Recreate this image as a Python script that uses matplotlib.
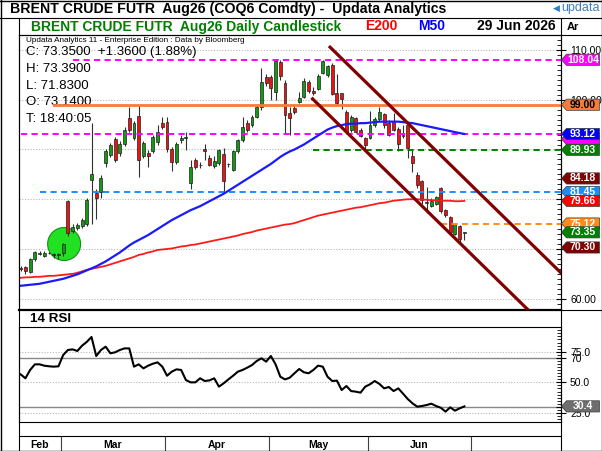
import numpy as np
import pandas as pd
import matplotlib
matplotlib.use("Agg")
import matplotlib.pyplot as plt
from matplotlib.patches import Polygon, Ellipse
from matplotlib.lines import Line2D
from matplotlib.ticker import MultipleLocator, FixedLocator, FixedFormatter
import matplotlib.transforms as mtransforms

plt.rcParams['font.family'] = ['Liberation Sans', 'DejaVu Sans']

W, H = 602, 451

# ---- data ----
dates = pd.bdate_range('2026-02-17', '2026-06-29')

opens = [66.1, 66.3, 65.3, 67.9, 69.0, 68.6, 69.2, 69.0, 68.7, 69.1,
         79.7, 73.7, 74.2, 74.6, 75.0, 83.9, 81.3, 81.5, 87.2, 88.9,
         92.2, 89.2, 91.2, 96.3, 92.4, 96.7, 88.7, 89.2, 89.6, 91.6,
         95.4, 95.5, 90.0, 87.5, 92.0, 92.4, 83.3, 87.9, 86.8, 90.0,
         88.2, 86.6, 87.2, 89.1, 87.0, 85.9, 89.6, 91.9, 95.4, 94.9,
         96.6, 98.5, 104.5, 104.6, 101.6, 107.5, 103.3, 97.4, 98.3, 99.6,
         100.5, 103.5, 101.8, 102.1, 105.4, 104.9, 107.0, 101.3, 101.3, 97.6,
         93.9, 96.3, 93.9, 92.4, 92.4, 94.9, 96.1, 97.1, 95.4, 95.8,
         94.2, 92.9, 94.9, 88.7, 84.9, 83.7, 79.5, 78.6, 79.0, 82.2,
         77.8, 76.5, 73.0, 74.7, 73.14]
highs = [66.5, 66.6, 68.2, 69.6, 69.5, 69.5, 69.4, 69.2, 69.2, 71.3,
         79.8, 75.0, 75.2, 76.3, 80.2, 95.3, 82.0, 84.8, 90.0, 91.4,
         92.6, 91.8, 94.5, 98.6, 95.8, 99.0, 91.8, 89.9, 93.0, 95.0,
         96.6, 96.5, 90.6, 91.5, 93.0, 93.5, 87.9, 88.3, 87.5, 91.2,
         88.9, 88.6, 90.2, 90.3, 87.3, 89.9, 92.2, 96.6, 96.0, 97.0,
         99.0, 106.3, 105.2, 105.0, 108.04, 108.0, 104.0, 98.5, 98.7, 101.6,
         104.3, 104.0, 102.6, 105.2, 108.0, 107.0, 107.4, 105.2, 101.4, 97.9,
         97.0, 96.6, 94.3, 92.6, 97.8, 96.6, 98.6, 97.3, 95.9, 97.4,
         94.6, 94.9, 95.3, 89.9, 85.4, 83.9, 82.5, 80.2, 80.6, 82.4,
         78.0, 76.6, 75.2, 74.8, 73.39]
lows = [65.6, 64.9, 65.1, 67.6, 68.7, 68.3, 68.9, 68.2, 67.9, 68.6,
        72.6, 73.2, 73.8, 74.3, 74.6, 75.0, 76.0, 80.2, 86.5, 88.4,
        87.5, 88.6, 90.8, 93.5, 92.0, 84.4, 88.2, 86.5, 89.2, 91.0,
        94.2, 89.5, 85.7, 87.0, 91.4, 89.9, 82.0, 86.0, 86.3, 87.9,
        86.7, 86.3, 86.8, 81.5, 86.5, 85.6, 89.2, 91.5, 93.5, 94.6,
        96.3, 98.0, 102.8, 99.9, 99.9, 104.0, 93.1, 93.0, 97.1, 99.3,
        100.3, 101.4, 101.0, 101.9, 105.2, 104.6, 101.0, 98.9, 98.1, 93.4,
        93.5, 93.3, 92.5, 89.9, 92.2, 94.6, 95.7, 94.3, 92.7, 93.8,
        89.6, 92.4, 88.2, 85.5, 82.2, 79.0, 77.2, 78.4, 78.8, 77.2,
        76.5, 73.1, 72.8, 71.5, 71.83]
closes = [66.0, 65.5, 67.9, 69.3, 69.2, 69.2, 69.15, 68.7, 69.0, 71.0,
          73.3, 74.5, 74.8, 75.9, 79.8, 85.1, 80.2, 84.2, 89.6, 90.9,
          87.9, 91.2, 93.9, 93.9, 95.4, 87.9, 91.4, 88.6, 92.6, 93.6,
          94.6, 90.0, 87.5, 91.2, 92.3, 92.5, 86.4, 86.5, 86.9, 89.6,
          86.9, 87.6, 89.9, 83.7, 87.1, 89.6, 91.9, 94.5, 93.9, 96.6,
          98.6, 103.5, 103.3, 102.3, 107.7, 104.8, 96.9, 96.3, 97.6, 100.3,
          103.8, 101.7, 101.4, 104.8, 107.7, 106.8, 101.2, 99.4, 100.1, 93.6,
          96.6, 93.6, 92.7, 90.9, 94.9, 96.1, 97.6, 94.9, 92.9, 94.0,
          91.2, 92.8, 90.4, 87.2, 82.9, 79.8, 79.2, 79.7, 80.5, 77.7,
          76.8, 73.5, 75.1, 71.99, 73.35]

m50 = [62.6, 62.7, 62.8, 62.9, 63.0, 63.2, 63.4, 63.6, 63.8, 64.0,
       64.3, 64.6, 64.9, 65.3, 65.7, 66.1, 66.5, 67.0, 67.5, 68.1,
       68.7, 69.3, 70.0, 70.7, 71.3, 71.8, 72.3, 72.8, 73.4, 74.0,
       74.6, 75.2, 75.8, 76.3, 76.8, 77.3, 77.8, 78.2, 78.6, 79.1,
       79.6, 80.1, 80.6, 81.1, 81.7, 82.3, 82.9, 83.5, 84.1, 84.7,
       85.3, 85.9, 86.5, 87.1, 87.8, 88.5, 89.1, 89.6, 90.0, 90.5,
       91.0, 91.6, 92.2, 92.8, 93.4, 94.0, 94.4, 94.7, 94.9, 95.1,
       95.2, 95.2, 95.3, 95.3, 95.4, 95.5, 95.6, 95.6, 95.6, 95.6,
       95.6, 95.5, 95.4, 95.3, 95.1, 94.9, 94.7, 94.5, 94.3, 94.1,
       93.9, 93.7, 93.5, 93.3, 93.12]
e200 = [64.2, 64.3, 64.3, 64.4, 64.4, 64.5, 64.6, 64.6, 64.7, 64.8,
        64.9, 65.0, 65.2, 65.5, 65.8, 66.0, 66.2, 66.4, 66.6, 66.9,
        67.2, 67.5, 67.8, 68.1, 68.4, 68.8, 69.0, 69.3, 69.5, 69.8,
        69.9, 70.0, 70.1, 70.3, 70.5, 70.6, 70.8, 70.9, 71.1, 71.3,
        71.5, 71.7, 71.9, 72.1, 72.3, 72.5, 72.7, 73.0, 73.2, 73.4,
        73.7, 73.9, 74.1, 74.3, 74.5, 74.7, 74.9, 75.0, 75.2, 75.5,
        75.8, 76.1, 76.4, 76.7, 76.9, 77.1, 77.3, 77.5, 77.7, 77.9,
        78.1, 78.3, 78.4, 78.6, 78.8, 79.0, 79.2, 79.3, 79.5, 79.7,
        79.8, 79.9, 80.0, 80.0, 80.0, 79.9, 79.9, 79.8, 79.8, 79.7,
        79.7, 79.7, 79.6, 79.6, 79.66]
rsi = [56.5, 53.3, 60.1, 64.7, 64.7, 63.6, 63.1, 62.8, 63.1, 72.3,
       76.4, 76.9, 75.6, 79.9, 83.0, 87.0, 71.5, 76.4, 79.1, 73.7,
       74.5, 76.4, 77.7, 77.7, 62.8, 64.7, 61.4, 63.6, 65.2, 66.3,
       62.8, 55.4, 58.7, 60.6, 60.1, 51.9, 50.0, 50.0, 53.3, 51.1,
       51.6, 53.3, 46.5, 49.2, 52.4, 55.4, 58.7, 60.1, 62.0, 64.1,
       67.4, 69.6, 66.9, 71.5, 64.7, 54.6, 52.4, 53.8, 57.4, 60.9,
       58.2, 57.4, 60.1, 63.6, 62.8, 54.6, 51.1, 51.4, 43.7, 47.0,
       42.9, 42.4, 41.6, 46.5, 48.4, 51.1, 48.7, 45.1, 46.2, 42.9,
       45.1, 40.8, 36.4, 32.9, 30.2, 30.7, 31.5, 32.6, 30.7, 29.3,
       26.1, 29.6, 26.9, 28.8, 30.4]

# horizontal levels: value, first bar, colour, style
level_vals = [108.04, 99.00, 93.12, 89.93, 81.45, 75.12]
level_from = [11, 7, 0, 62, 4, 89]
level_cols = ['#ff00ff', '#f47c3c', '#ff00ff', '#008000', '#1e8cff', '#ff8c1a']
level_dash = [True, False, True, True, True, True]

# trend channel anchors (bar, price)
chan_upper = [(65.3, 110.8), (94, 84.18)]
chan_lower = [(61.6, 100.4), (94, 70.30)]

# highlight circle (bar, price)
circle_at = (9.2, 71.0)

# right-axis tags: value, text, fill, text colour
tags = [(108.04, '108.04', '#ff00ff', 'white'),
        (99.00, '99.00', '#f47c3c', 'black'),
        (93.12, '', '#ff00ff', 'white'),
        (93.12, '93.12', '#0000ff', 'white'),
        (89.93, '89.93', '#008000', 'white'),
        (84.18, '84.18', '#800000', 'white'),
        (81.45, '81.45', '#1e8cff', 'white'),
        (79.66, '79.66', '#ff0000', 'white'),
        (75.12, '75.12', '#ff8c1a', 'white'),
        (73.35, '73.35', '#008000', 'white'),
        (70.30, '70.30', '#800000', 'white')]

# ---- figure layout (pixel based) ----
fig = plt.figure(figsize=(W / 100, H / 100), dpi=100)


def fbox(x0, y0, x1, y1):
    return [x0 / W, 1 - y1 / H, (x1 - x0) / W, (y1 - y0) / H]


def hline(y, x0, x1, lw=0.8, color='black'):
    fig.add_artist(Line2D([x0 / W, x1 / W], [1 - y / H, 1 - y / H],
                          transform=fig.transFigure, color=color, lw=lw))


def vline(x, y0, y1, lw=0.8, color='black'):
    fig.add_artist(Line2D([x / W, x / W], [1 - y0 / H, 1 - y1 / H],
                          transform=fig.transFigure, color=color, lw=lw))


XL, XR = 19, 561
n = len(dates)
xs = np.arange(n)
px_per_bar = 4.72
xlim = ((XL - 20.7) / px_per_bar, (XR - 20.7) / px_per_bar)

ax = fig.add_axes(fbox(XL, 35, XR, 310))
ax.set_xlim(*xlim)
ax.set_ylim(57.73, 113.02)

# grid
for g in range(60, 111, 10):
    ax.axhline(g, color='#b8b8b8', lw=0.8, ls=(0, (1, 1.5)), zorder=0.5)

# circle
ax.add_patch(Ellipse(circle_at, 33 / px_per_bar, 33 / 4.974, fc='#22e022',
                     ec='#149014', lw=0.8, zorder=1.5))

# candles
o = np.array(opens); h = np.array(highs); l = np.array(lows); c = np.array(closes)
up = c >= o
ax.vlines(xs, l, h, color='#303030', lw=0.8, zorder=2)
body_lo = np.minimum(o, c)
body_h = np.maximum(np.abs(c - o), 0.08)
ax.bar(xs, body_h, bottom=body_lo, width=0.62,
       color=np.where(up, '#129a12', '#f01010'), edgecolor='#202020', lw=0.5, zorder=2.5)

# levels
for v, s, col, d in zip(level_vals, level_from, level_cols, level_dash):
    if d:
        ax.plot([s, xlim[1]], [v, v], color=col, lw=1.4, dashes=(3.2, 2.2), zorder=3)
    else:
        ax.plot([s, xlim[1]], [v, v], color=col, lw=2.0, zorder=3)

# moving averages
ax.plot(xs, e200, color='#ff1a1a', lw=1.3, zorder=3.5)
ax.plot(xs, m50, color='#1a1aff', lw=1.6, zorder=3.5)

# channel
for (x0, y0), (x1, y1) in (chan_upper, chan_lower):
    slope = (y1 - y0) / (x1 - x0)
    xe = xlim[1] + 5
    ax.plot([x0, xe], [y0, y0 + slope * (xe - x0)], color='#800000', lw=2.3,
            solid_capstyle='butt', zorder=4)

ax.yaxis.tick_right()
ax.yaxis.set_major_locator(MultipleLocator(10))
ax.yaxis.set_minor_locator(MultipleLocator(1))
ax.yaxis.set_major_formatter(matplotlib.ticker.FormatStrFormatter('%.2f'))
ax.tick_params(axis='y', which='major', direction='inout', length=7, width=0.8,
               labelsize=7.5, pad=3)
ax.tick_params(axis='y', which='minor', direction='in', length=3, width=0.6)
ax.set_xticks([])
for sp in ax.spines.values():
    sp.set_linewidth(0.8)
ax.spines['bottom'].set_linewidth(1.6)

# info text inside the chart
ax.text(26 / W, 1 - 40 / H, 'Updata Analytics 11 - Enterprise Edition : Data by Bloomberg',
        transform=fig.transFigure, fontsize=5.9, va='center', zorder=1)
info = ['C: 73.3500  +1.3600 (1.88%)', 'H: 73.3900', 'L: 71.8300', 'O: 73.1400', 'T: 18:40:05']
for i, s in enumerate(info):
    ax.text(26 / W, 1 - (52 + 16.8 * i) / H, s, transform=fig.transFigure,
            fontsize=9.5, va='center', zorder=1)

# RSI panel
ax2 = fig.add_axes(fbox(XL, 327, XR, 421.7))
ax2.set_xlim(*xlim)
ax2.set_ylim(17.9, 95.15)
for g in (75, 50, 25):
    ax2.axhline(g, color='#b8b8b8', lw=0.8, ls=(0, (1, 1.5)), zorder=0.5)
for g in (70, 30):
    ax2.axhline(g, color='#888888', lw=1.0, zorder=0.6)
ax2.plot(xs, rsi, color='black', lw=1.5, zorder=3)
ax2.yaxis.tick_right()
ax2.yaxis.set_major_locator(FixedLocator([25, 30, 50, 70, 75]))
ax2.yaxis.set_major_formatter(FixedFormatter(['25.0', '30', '50.0', '70', '75.0']))
ax2.yaxis.set_minor_locator(MultipleLocator(2.5))
ax2.tick_params(axis='y', which='major', direction='inout', length=7, width=0.8,
                labelsize=7.5, pad=3)
ax2.tick_params(axis='y', which='minor', direction='in', length=3, width=0.6)
ax2.set_xticks([])
for sp in ax2.spines.values():
    sp.set_linewidth(0.8)

# date axis
ax3 = fig.add_axes(fbox(XL, 436, XR, 451))
ax3.set_xlim(*xlim)
ax3.set_ylim(0, 1)
ax3.set_xticks([]); ax3.set_yticks([])
for sp in ax3.spines.values():
    sp.set_visible(False)
ax3.spines['top'].set_visible(True)
ax3.spines['top'].set_linewidth(0.8)
ext = pd.bdate_range(dates[0], periods=130)
months = ext.month
bounds = [i - 0.5 for i in range(1, len(ext)) if months[i] != months[i - 1]]
for b in bounds:
    if xlim[0] < b < xlim[1]:
        ax3.axvline(b, color='#404040', lw=0.8)
for m in sorted(set(dates.month)):
    idx = np.where(months == m)[0]
    a, z = max(idx[0] - 0.5, xlim[0]), idx[-1] + 0.5
    ax3.text((a + z) / 2, 0.42, ext[idx[0]].strftime('%b'), ha='center', va='center',
             fontsize=7.5, fontweight='bold')

# tags on the right axis
ident = mtransforms.IdentityTransform()


def tag(axis, v, txt, fc, tc, dy=0, z=6, fs=7.5):
    yc = axis.transData.transform((0, v))[1] - dy
    x0, x1, tip, hh = 561.5, 599.5, 5, 5.6
    verts = [(x0, yc), (x0 + tip, yc + hh), (x1, yc + hh), (x1, yc - hh), (x0 + tip, yc - hh)]
    fig.add_artist(Polygon(verts, closed=True, fc=fc, ec='#3a3a3a', lw=0.5,
                           transform=ident, zorder=z))
    if txt:
        fig.text((x0 + tip + x1) / 2 / W, yc / H, txt, ha='center', va='center',
                 color=tc, fontsize=fs, fontweight='bold', zorder=z + 0.1)


for k, (v, txt, fc, tc) in enumerate(tags):
    tag(ax, v, txt, fc, tc, dy=5 if txt == '' else 0, z=6 + k * 0.2)
tag(ax2, rsi[-1], '%.1f' % rsi[-1], '#6e6e6e', 'white', z=9)

# frame and header
hline(0.5, 0, W, lw=1.0)
hline(H - 0.5, 0, W, lw=1.0)
vline(0.5, 0, H, lw=1.0)
vline(W - 0.5, 0, H, lw=1.0)
hline(18, 0, W)
vline(XL, 18, H)
vline(XR, 18, H)
hline(35, XL, W)
hline(310, XR, W)

fig.text(10 / W, 1 - 9.5 / H, 'BRENT CRUDE FUTR  Aug26 (COQ6 Comdty) -  Updata Analytics',
         fontsize=10.2, fontweight='bold', va='center')
fig.text(553 / W, 1 - 8 / H, '\u25c0', family='DejaVu Sans', fontsize=6.5,
         color='#2e7ec8', va='center')
fig.text(561 / W, 1 - 8 / H, 'updata', fontsize=9, color='#3d7fc1', va='center')

ty = 1 - 26.5 / H
fig.text(31 / W, ty, 'BRENT CRUDE FUTR  Aug26 Daily Candlestick', color='#008000',
         fontsize=10, fontweight='bold', va='center')
fig.text(365 / W, ty, 'E200', color='#ff0000', fontsize=10, fontweight='bold', va='center')
fig.text(418 / W, ty, 'M50', color='#0000ff', fontsize=10, fontweight='bold', va='center')
fig.text(477 / W, ty, '29 Jun 2026', color='black', fontsize=10, fontweight='bold', va='center')
fig.text(567 / W, ty, 'Ar', color='black', fontsize=8, fontweight='bold', va='center')

fig.text(30 / W, 1 - 319 / H, '14 RSI', fontsize=9.6, fontweight='bold', va='center')

fig.savefig('out.png', dpi=100)
